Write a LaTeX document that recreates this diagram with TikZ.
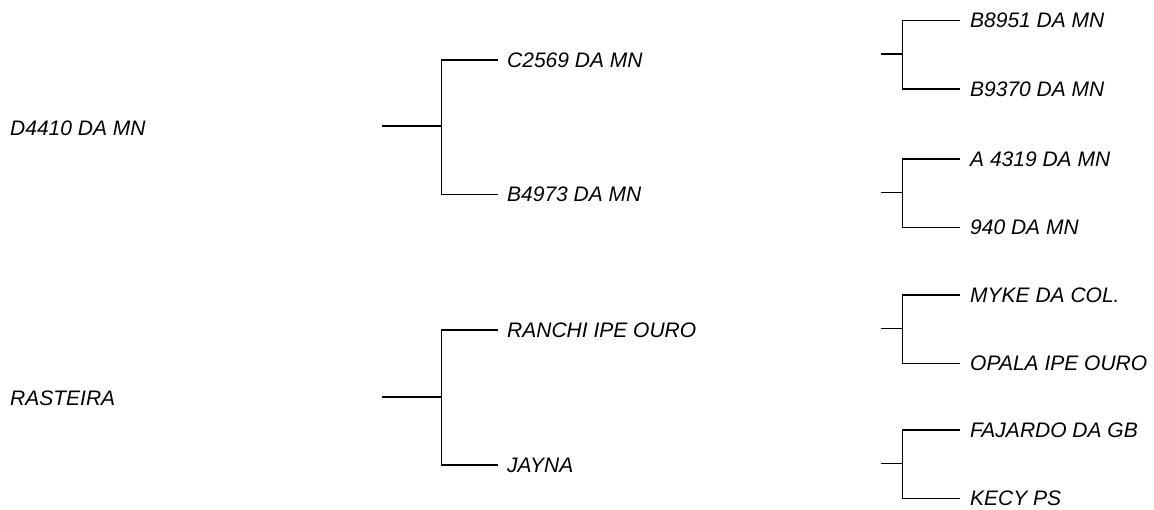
\documentclass[tikz,border=0pt]{standalone}
\usepackage{fontspec}
\setmainfont{Liberation Sans}
\usetikzlibrary{positioning}

\begin{document}
\begin{tikzpicture}[x=1pt,y=-1pt,
  animal/.style={font=\fontsize{21}{25}\selectfont\itshape, anchor=west,
    inner sep=0pt, text height=15pt, text depth=0pt},
  tie/.style={line width=1.5pt}]
\useasboundingbox (0,0) rectangle (1154,510);

% parents
\node[animal] (d4410) at (10,128) {D4410 DA MN};
\node[animal] (rasteira) at (10,398) {RASTEIRA};

% grandparents
\coordinate (s1) at (382,126);
\coordinate (j1) at (441.5,126);
\node[animal] (c2569) at (507,60) {C2569 DA MN};
\node[animal] (b4973) at (507,194.5) {B4973 DA MN};
\draw[tie] (s1) -- (j1);
\draw[tie] ([xshift=-9pt]c2569.west) -| (j1) |- ([xshift=-9pt]b4973.west);

\coordinate (s2) at (382,397);
\coordinate (j2) at (441.5,397);
\node[animal] (ranchi) at (507,330) {RANCHI IPE OURO};
\node[animal] (jayna) at (507,465) {JAYNA};
\draw[tie] (s2) -- (j2);
\draw[tie] ([xshift=-9pt]ranchi.west) -| (j2) |- ([xshift=-9pt]jayna.west);

% great-grandparents
\foreach \i/\y/\top/\bot in {1/54/B8951 DA MN/B9370 DA MN,
    2/192.3/A 4319 DA MN/940 DA MN,
    3/328.3/MYKE DA COL./OPALA IPE OURO,
    4/463.3/FAJARDO DA GB/KECY PS}
{
  \coordinate (r\i) at (880.5,\y);
  \coordinate (k\i) at (902.5,\y);
  \node[animal] (t\i) at (970,\y-33.5) {\top};
  \node[animal] (b\i) at (970,\y+35) {\bot};
  \draw[tie] (r\i) -- (k\i);
  \draw[tie] ([xshift=-10pt]t\i.west) -| (k\i) |- ([xshift=-10pt]b\i.west);
}
\end{tikzpicture}
\end{document}
